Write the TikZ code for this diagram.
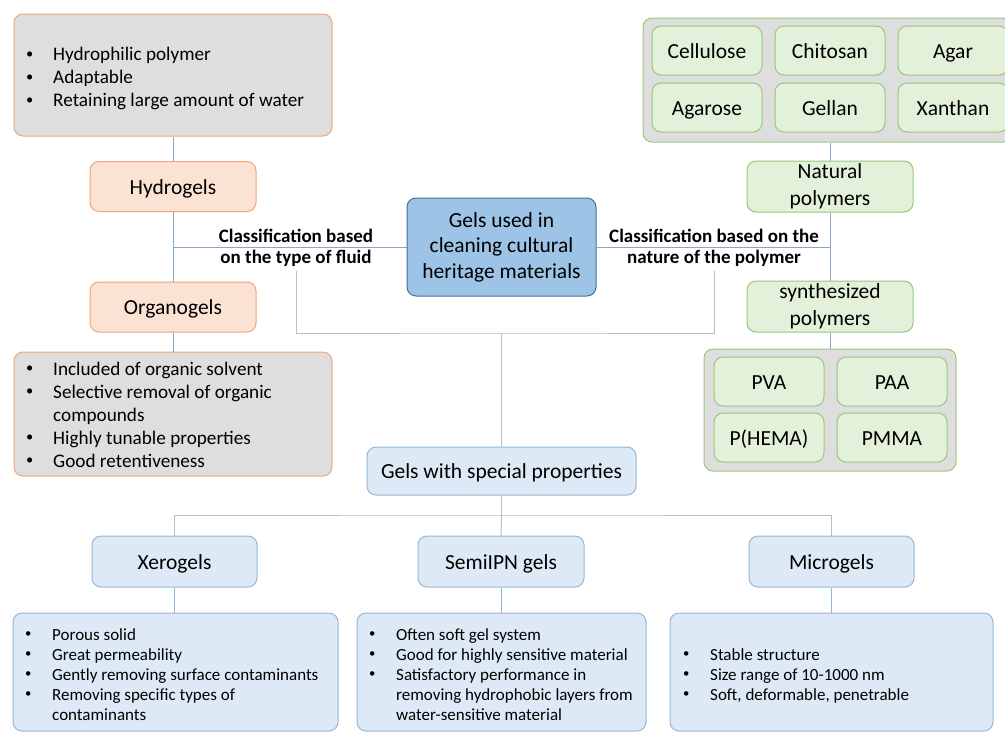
\documentclass[tikz,border=0pt]{standalone}
\usepackage{fontspec}
\setmainfont{Carlito}
\usepackage{array}
\definecolor{orgborder}{HTML}{EFA676}
\definecolor{orgfill}{HTML}{FBE3D4}
\definecolor{grayfill}{HTML}{DEDEDE}
\definecolor{grnborder}{HTML}{97C97A}
\definecolor{grnfill}{HTML}{E3F0DA}
\definecolor{bluborder}{HTML}{93B6D9}
\definecolor{blufill}{HTML}{DDEAF6}
\definecolor{mainfill}{HTML}{9DC3E6}
\definecolor{mainborder}{HTML}{41719C}
\definecolor{treeline}{HTML}{8AA6C6}
\definecolor{grayline}{HTML}{BDBDBD}
\newcommand{\bul}{\raisebox{0.12em}{\scalebox{0.75}{\textbullet}}}
\tikzset{
  bx/.style={draw, rounded corners=9pt, line width=1pt, inner sep=0pt, align=center},
  one/.style={text height=15pt, text depth=0pt},
  orgbox/.style={bx, one, draw=orgborder, fill=orgfill, font=\fontsize{21.5}{26}\selectfont},
  orglist/.style={bx, draw=orgborder, fill=grayfill},
  grnbox/.style={bx, draw=grnborder, fill=grnfill, font=\fontsize{21.5}{26.5}\selectfont},
  grncont/.style={bx, draw=grnborder, fill=grayfill},
  blubox/.style={bx, one, draw=bluborder, fill=blufill, font=\fontsize{21.5}{26}\selectfont},
  mainbox/.style={bx, draw=mainborder, fill=mainfill, font=\fontsize{21.5}{25.5}\selectfont},
  lbl/.style={inner sep=0pt, align=center, font=\bfseries\fontsize{19}{21}\selectfont},
  txt/.style={inner sep=0pt, anchor=west, align=left},
  tline/.style={draw=treeline, line width=1pt},
  gline/.style={draw=grayline, line width=1pt}
}
\begin{document}
\begin{tikzpicture}[x=1pt,y=-1pt]
\useasboundingbox (0,0) rectangle (1005,732);
\clip (0,0) rectangle (1005,732);
% ---------- left branch ----------
\node[orglist, minimum width=318, minimum height=122] (tl) at (173,75) {};
\node[txt] (tltxt) at (26,79) {\fontsize{19.2}{23}\selectfont\begin{tabular}{@{}p{27pt}@{}l@{}}
\bul & Hydrophilic polymer\\
\bul & Adaptable\\
\bul & Retaining large amount of water
\end{tabular}};
\node[orgbox, minimum width=166, minimum height=50] (hydro) at (173,186.5) {Hydrogels};
\node[orgbox, minimum width=166, minimum height=50] (organo) at (173,307) {Organogels};
\node[orglist, minimum width=318, minimum height=124] (bl) at (173,414) {};
\node[txt] (bltxt) at (26,416.5) {\fontsize{19.2}{23}\selectfont\begin{tabular}{@{}p{27pt}@{}l@{}}
\bul & Included of organic solvent\\
\bul & Selective removal of organic\\
 & compounds\\
\bul & Highly tunable properties\\
\bul & Good retentiveness
\end{tabular}};
% ---------- centre ----------
\node[mainbox, minimum width=189, minimum height=98] (main) at (501.5,247) {Gels used in\\cleaning cultural\\heritage materials};
\node[lbl] (lfl) at (296,248) {Classification based\\on the type of fluid};
\node[lbl] (rtl) at (714,248) {Classification based on the\\nature of the polymer};
% ---------- right branch ----------
\node[grncont, minimum width=369, minimum height=124] (nc) at (827.5,80) {};
\node[grnbox, one, minimum width=110, minimum height=49] (cell) at (707,50.5) {Cellulose};
\node[grnbox, one, minimum width=110, minimum height=49] (chit) at (830,50.5) {Chitosan};
\node[grnbox, one, minimum width=110, minimum height=49] (agar) at (953,50.5) {Agar};
\node[grnbox, one, minimum width=110, minimum height=49] (agarose) at (707,107.5) {Agarose};
\node[grnbox, one, minimum width=110, minimum height=49] (gellan) at (830,107.5) {Gellan};
\node[grnbox, one, minimum width=110, minimum height=49] (xanth) at (953,107.5) {Xanthan};
\node[grnbox, minimum width=166, minimum height=51] (nat) at (830,186.5) {Natural\\polymers};
\node[grnbox, minimum width=166, minimum height=51] (syn) at (830,306.5) {synthesized\\polymers};
\node[grncont, minimum width=252, minimum height=122] (sc) at (830,410) {};
\node[grnbox, one, minimum width=110, minimum height=49] (pva) at (769,381.5) {PVA};
\node[grnbox, one, minimum width=110, minimum height=49] (paa) at (892,381.5) {PAA};
\node[grnbox, one, minimum width=110, minimum height=49] (phema) at (769,437.5) {P(HEMA)};
\node[grnbox, one, minimum width=110, minimum height=49] (pmma) at (892,437.5) {PMMA};
% ---------- bottom ----------
\node[blubox, minimum width=269, minimum height=48] (sp) at (501.5,471) {Gels with special properties};
\node[blubox, minimum width=165, minimum height=51] (xero) at (174.5,561.5) {Xerogels};
\node[blubox, minimum width=166, minimum height=51] (semi) at (501,561.5) {SemiIPN gels};
\node[blubox, minimum width=165, minimum height=51] (micro) at (831.5,561.5) {Microgels};
\node[bx, draw=bluborder, fill=blufill, minimum width=325, minimum height=118] (xd) at (175.5,672) {};
\node[bx, draw=bluborder, fill=blufill, minimum width=289, minimum height=118] (sd) at (501.5,672) {};
\node[bx, draw=bluborder, fill=blufill, minimum width=323, minimum height=118] (md) at (831.5,672) {};
\node[txt] (xdt) at (25,676) {\fontsize{17}{20}\selectfont\begin{tabular}{@{}p{27pt}@{}l@{}}
\bul & Porous solid\\
\bul & Great permeability\\
\bul & Gently removing surface contaminants\\
\bul & Removing specific types of\\
 & contaminants
\end{tabular}};
\node[txt] (sdt) at (369,676) {\fontsize{17}{20}\selectfont\begin{tabular}{@{}p{27pt}@{}l@{}}
\bul & Often soft gel system\\
\bul & Good for highly sensitive material\\
\bul & Satisfactory performance in\\
 & removing hydrophobic layers from\\
 & water-sensitive material
\end{tabular}};
\node[txt] (mdt) at (683,676) {\fontsize{17}{20}\selectfont\begin{tabular}{@{}p{27pt}@{}l@{}}
\bul & Stable structure\\
\bul & Size range of 10-1000 nm\\
\bul & Soft, deformable, penetrable
\end{tabular}};
% ---------- connectors ----------
\draw[tline] (tl.south) -- (hydro.north);
\draw[tline] (hydro.south) -- (organo.north);
\draw[tline] (organo.south) -- (bl.north);
\draw[tline] (main.west) -- (main.west -| hydro.south);
\draw[tline] (nc.south -| nat.north) -- (nat.north);
\draw[tline] (nat.south) -- (syn.north);
\draw[tline] (syn.south) -- (sc.north -| syn.south);
\draw[tline] (main.east) -- (main.east -| nat.south);
\coordinate (mid) at (501.5,333);
\draw[gline] ([yshift=-4pt]lfl.south) |- (mid) -| ([yshift=-4pt]rtl.south);
\draw[gline] (mid) -- (sp.north);
\coordinate (bus) at (501.5,515);
\draw[gline] (sp.south) -- (bus);
\draw[gline] (xero.north) |- (bus) -| (micro.north);
\draw[gline] (bus) -- (semi.north);
\draw[tline, draw=bluborder] (xero.south) -- (xd.north -| xero.south);
\draw[tline, draw=bluborder] (semi.south) -- (sd.north -| semi.south);
\draw[tline, draw=bluborder] (micro.south) -- (md.north -| micro.south);
\end{tikzpicture}
\end{document}
